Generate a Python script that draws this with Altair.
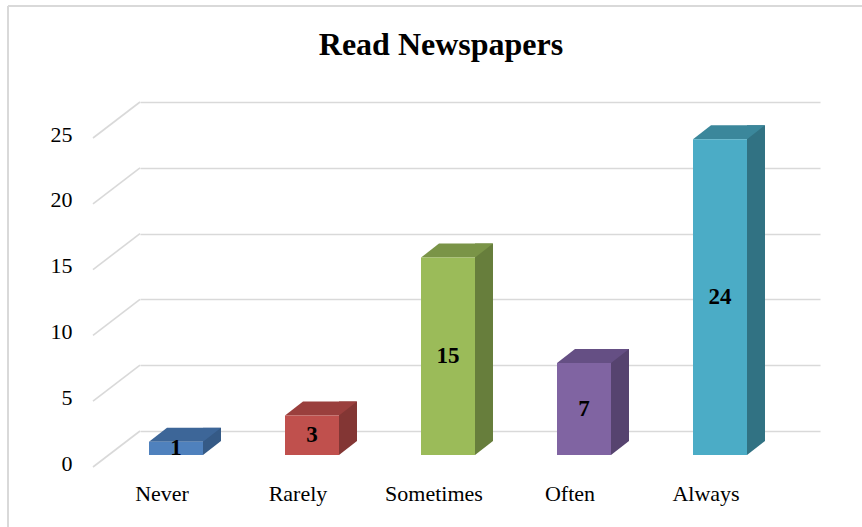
import altair as alt
import pandas as pd

TITLE = "Read Newspapers"
categories = ["Never", "Rarely", "Sometimes", "Often", "Always"]
values = [1, 3, 15, 7, 24]
front_colors = ["#4F81BD", "#C0504D", "#9BBB59", "#8064A2", "#4BACC6"]
top_colors = ["#3D6698", "#9A3F3D", "#7A9447", "#654F84", "#3B879B"]
side_colors = ["#355A86", "#833634", "#677E3C", "#56436F", "#317283"]
y_ticks = [0, 5, 10, 15, 20, 25]

df = pd.DataFrame({"cat": categories, "value": values,
                   "front": front_colors, "top": top_colors, "side": side_colors})
ticks_df = pd.DataFrame({"t": y_ticks})
one = pd.DataFrame({"a": [0]})

FONT = "Liberation Serif"
W, H = 680, 329
GRID = "#D9D9D9"

xs = alt.Scale(domain=categories, paddingInner=0, paddingOuter=0)
ys = alt.Scale(domain=[0, 25], nice=False, zero=True)

X = alt.X("cat:N", scale=xs, sort=categories,
          axis=alt.Axis(title=None, domain=False, ticks=False, labelFont=FONT,
                        labelFontSize=22, labelColor="#000000", labelOffset=-46,
                        labelPadding=62, labelAngle=0, labelBaseline="middle"))
Y = alt.Y("value:Q", scale=ys,
          axis=alt.Axis(title=None, domain=False, ticks=False, values=y_ticks,
                        grid=True, gridColor=GRID, gridWidth=1.6,
                        labelFont=FONT, labelFontSize=22, labelColor="#000000",
                        labelPadding=68, labelOffset=32, labelBaseline="middle"))

base = alt.Chart(df)

side = base.mark_bar(width=18, xOffset=4, yOffset=10, y2Offset=24).encode(
    x=X, y=Y, y2=alt.datum(0), color=alt.Color("side:N", scale=None))

white_tri = base.mark_point(shape="M-5,24L13,24L13,10Z", size=4, filled=True,
                            opacity=1, strokeWidth=0, color="#FFFFFF").encode(
    x=alt.X("cat:N", scale=xs, sort=categories), y=alt.datum(0))

top = base.mark_point(shape="M-59,24L-5,24L13,10L-41,10Z", size=4, filled=True,
                      opacity=1, strokeWidth=0).encode(
    x=alt.X("cat:N", scale=xs, sort=categories), y=alt.Y("value:Q", scale=ys),
    fill=alt.Fill("top:N", scale=None))

front = base.mark_bar(width=54, xOffset=-32, yOffset=24, y2Offset=24).encode(
    x=alt.X("cat:N", scale=xs, sort=categories), y=alt.Y("value:Q", scale=ys),
    y2=alt.datum(0), color=alt.Color("front:N", scale=None))

labels = base.transform_calculate(mid="datum.value / 2").mark_text(
    font=FONT, fontSize=23, fontWeight="bold", color="#000000",
    xOffset=-32, yOffset=24, baseline="middle").encode(
    x=alt.X("cat:N", scale=xs, sort=categories), y=alt.Y("mid:Q", scale=ys),
    text="value:Q")

diag = alt.Chart(ticks_df).mark_rule(color=GRID, strokeWidth=1.6, y2Offset=36).encode(
    x=alt.value(0), x2=alt.value(-47),
    y=alt.Y("t:Q", scale=ys), y2=alt.Y2("t:Q"))

border_left = alt.Chart(one).mark_rule(color=GRID, strokeWidth=2).encode(
    x=alt.value(-132), y=alt.value(-96), y2=alt.value(440))
border_top = alt.Chart(one).mark_rule(color=GRID, strokeWidth=2).encode(
    x=alt.value(-132), x2=alt.value(740), y=alt.value(-96))

title = alt.Chart(one).mark_text(font=FONT, fontSize=32, fontWeight="bold",
                                 color="#000000", baseline="middle").encode(
    x=alt.value(301), y=alt.value(-57), text=alt.value(TITLE))

chart = alt.layer(border_left, border_top, diag, side, white_tri, top, front,
                  labels, title).properties(
    width=W, height=H,
    padding={"left": 140, "top": 102, "right": 42, "bottom": 96},
    autosize=alt.AutoSizeParams(type="none"),
    background="#FFFFFF",
).configure_view(stroke=None)

chart.save("out.html", embed_options={"renderer": "svg", "actions": False})
